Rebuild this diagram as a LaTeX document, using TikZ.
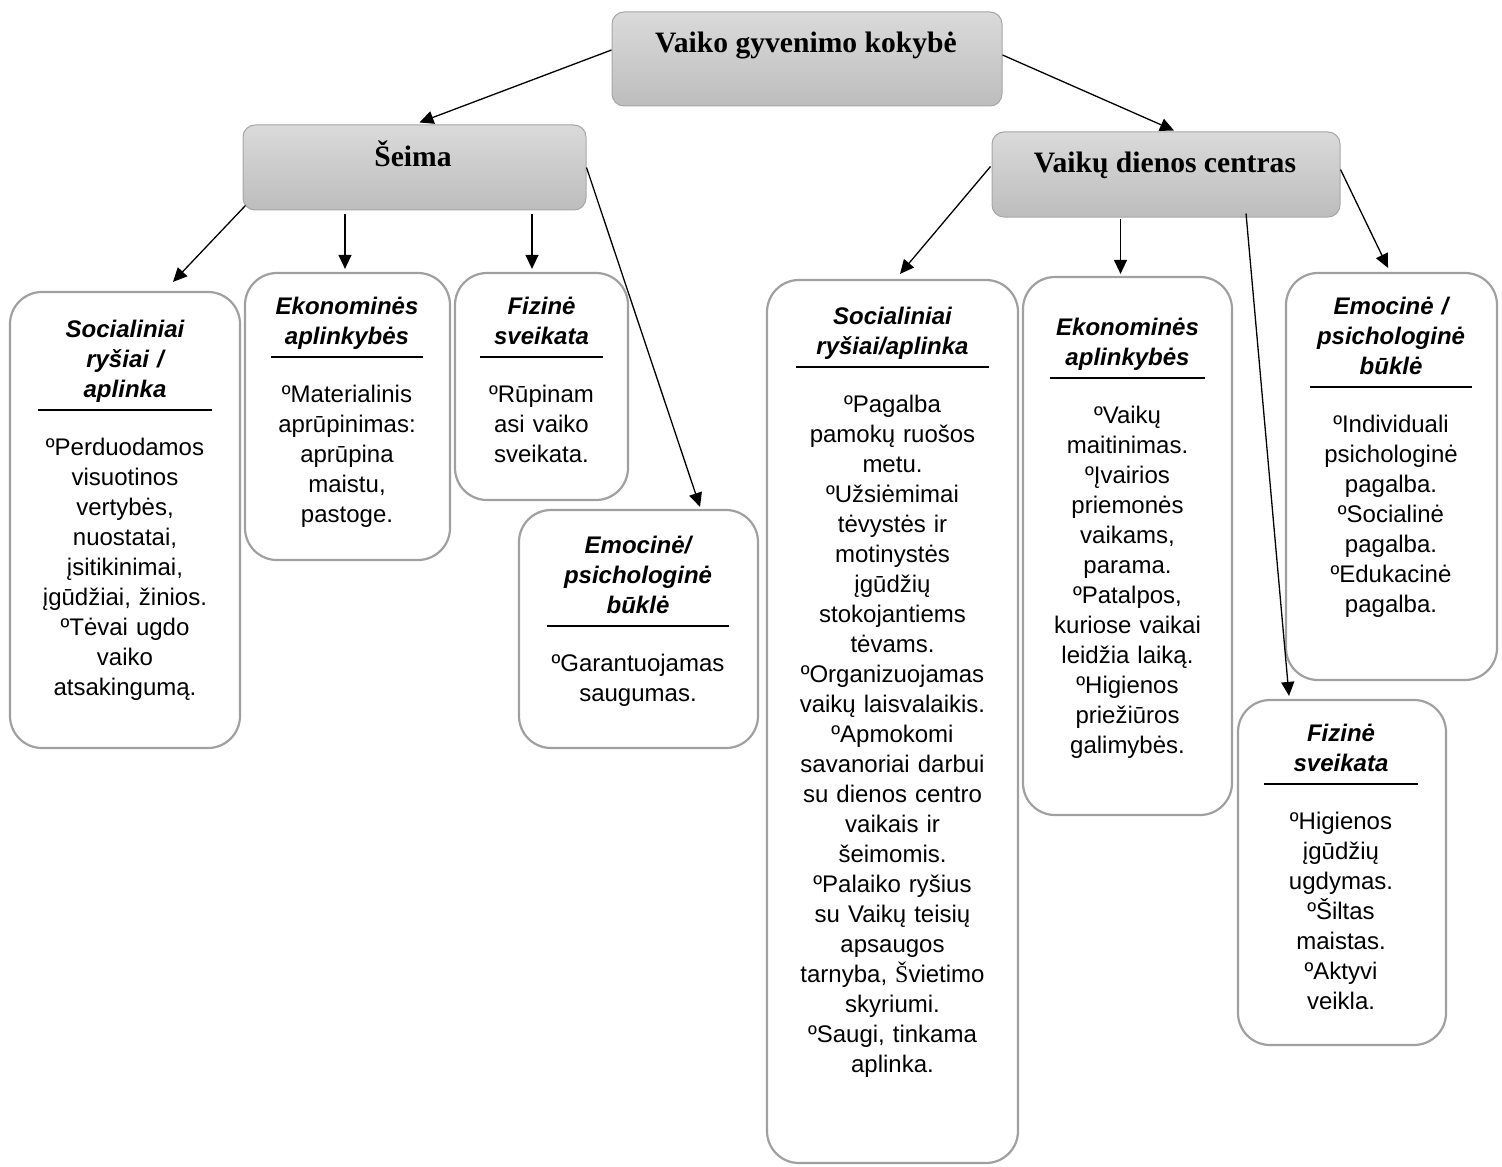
\documentclass[tikz,border=0pt]{standalone}
\usepackage{fontspec}
\setmainfont{Liberation Sans}
\newfontfamily\serifttl{Liberation Serif}
\usetikzlibrary{arrows.meta,calc}
\definecolor{topg}{HTML}{DADADA}
\definecolor{botg}{HTML}{BDBDBD}
\definecolor{gbord}{HTML}{A6A6A6}
\definecolor{lbord}{HTML}{A0A0A0}
\begin{document}
\begin{tikzpicture}[x=0.5pt,y=-0.5pt,
  catbox/.style={draw=gbord, line width=0.5pt, rounded corners=6pt, top color=topg, bottom color=botg, inner sep=0pt},
  leafbox/.style={draw=lbord, line width=1.1pt, rounded corners=16pt, fill=white, inner sep=0pt},
  ttl/.style={font=\serifttl\bfseries\fontsize{14.8}{17}\selectfont, anchor=base, inner sep=0pt},
  hdr/.style={font=\bfseries\itshape\fontsize{12}{15}\selectfont, align=center, anchor=base, inner sep=0pt, text width=#1},
  bdy/.style={font=\fontsize{12}{15}\selectfont, align=center, anchor=base, inner sep=0pt, text width=#1},
  hrule/.style={line width=1.3pt},
  conn/.style={line width=0.65pt, -{Triangle[length=7pt,width=6.5pt]}}
]
\useasboundingbox (0,0) rectangle (1502,1166);

% category boxes
\node[catbox, minimum width=195pt, minimum height=47pt] (top) at (807,59) {};
\node[ttl] (toptxt) at (806,53) {Vaiko gyvenimo kokybė};
\node[catbox, minimum width=171.5pt, minimum height=42.5pt] (seima) at (414.5,167.5) {};
\node[ttl] (seimatxt) at (413,166.5) {Šeima};
\node[catbox, minimum width=174pt, minimum height=42.5pt] (vdc) at (1166,174.5) {};
\node[ttl] (vdctxt) at (1165,173) {Vaikų dienos centras};

% Box 1
\node[leafbox, minimum width=115pt, minimum height=228pt] (b1) at (125,520) {};
\node[hdr=115pt] (b1h) at (125,337) {Socialiniai\\ ryšiai /\\ aplinka};
\draw[hrule] (38,410) -- (212,410);
\node[bdy=115pt] (b1t) at (125,455) {ºPerduodamos\\ visuotinos\\ vertybės,\\ nuostatai,\\ įsitikinimai,\\ įgūdžiai, žinios.\\ ºTėvai ugdo\\ vaiko\\ atsakingumą.};

% Box 2
\node[leafbox, minimum width=102.5pt, minimum height=143.5pt] (b2) at (347.5,416.5) {};
\node[hdr=102.5pt] (b2h) at (347,314) {Ekonominės\\ aplinkybės};
\draw[hrule] (271,357) -- (423,357);
\node[bdy=102.5pt] (b2t) at (347,402) {ºMaterialinis\\ aprūpinimas:\\ aprūpina\\ maistu,\\ pastoge.};

% Box 3
\node[leafbox, minimum width=86.5pt, minimum height=113.5pt] (b3) at (541.5,386.5) {};
\node[hdr=86.5pt] (b3h) at (541.5,314) {Fizinė\\ sveikata};
\draw[hrule] (480,357) -- (603,357);
\node[bdy=86.5pt] (b3t) at (541.5,402) {ºRūpinam\\ asi vaiko\\ sveikata.};

% Box 4
\node[leafbox, minimum width=119.5pt, minimum height=119pt] (b4) at (638.5,629) {};
\node[hdr=119.5pt] (b4h) at (638,553) {Emocinė/\\ psichologinė\\ būklė};
\draw[hrule] (547,626) -- (729,626);
\node[bdy=119.5pt] (b4t) at (638,671) {ºGarantuojamas\\ saugumas.};

% Box 5
\node[leafbox, minimum width=125.5pt, minimum height=441.5pt] (b5) at (892.5,721.5) {};
\node[hdr=125.5pt] (b5h) at (892.5,324) {Socialiniai\\ ryšiai/aplinka};
\draw[hrule] (796,367) -- (989,367);
\node[bdy=125.5pt] (b5t) at (892.5,412) {ºPagalba\\ pamokų ruošos\\ metu.\\ ºUžsiėmimai\\ tėvystės ir\\ motinystės\\ įgūdžių\\ stokojantiems\\ tėvams.\\ ºOrganizuojamas\\ vaikų laisvalaikis.\\ ºApmokomi\\ savanoriai darbui\\ su dienos centro\\ vaikais ir\\ šeimomis.\\ ºPalaiko ryšius\\ su Vaikų teisių\\ apsaugos\\ tarnyba, {\serifttl Š}vietimo\\ skyriumi.\\ ºSaugi, tinkama\\ aplinka.};

% Box 6
\node[leafbox, minimum width=104.5pt, minimum height=269pt] (b6) at (1127.5,546) {};
\node[hdr=104.5pt] (b6h) at (1127.5,335) {Ekonominės\\ aplinkybės};
\draw[hrule] (1050,378) -- (1205,378);
\node[bdy=104.5pt] (b6t) at (1127.5,423) {ºVaikų\\ maitinimas.\\ ºĮvairios\\ priemonės\\ vaikams,\\ parama.\\ ºPatalpos,\\ kuriose vaikai\\ leidžia laiką.\\ ºHigienos\\ priežiūros\\ galimybės.};

% Box 7
\node[leafbox, minimum width=105.5pt, minimum height=203.5pt] (b7) at (1391.5,476.5) {};
\node[hdr=105.5pt] (b7h) at (1391,314) {Emocinė /\\ psichologinė\\ būklė};
\draw[hrule] (1310,387) -- (1472,387);
\node[bdy=105.5pt] (b7t) at (1391,432) {ºIndividuali\\ psichologinė\\ pagalba.\\ ºSocialinė\\ pagalba.\\ ºEdukacinė\\ pagalba.};

% Box 8
\node[leafbox, minimum width=104pt, minimum height=172.5pt] (b8) at (1342,872.5) {};
\node[hdr=104pt] (b8h) at (1341,741) {Fizinė\\ sveikata};
\draw[hrule] (1264,784) -- (1418,784);
\node[bdy=104pt] (b8t) at (1341,829) {ºHigienos\\ įgūdžių\\ ugdymas.\\ ºŠiltas\\ maistas.\\ ºAktyvi\\ veikla.};

% connectors
\draw[conn] ($(top.west)+(0,-9)$) -- ($(seima.north)+(5,-2)$);
\draw[conn] ($(top.east)+(0,-4)$) -- ($(vdc.north)+(8,-1)$);
\draw[conn] ($(seima.south west)+(3,-5)$) -- ($(b1.north)+(48,-9)$);
\draw[conn] ($(seima.south -| b2.north)+(-2.5,4)$) -- ($(b2.north)+(-2.5,-3)$);
\draw[conn] ($(seima.south -| b3.north)+(-9.5,4)$) -- ($(b3.north)+(-9.5,-3)$);
\draw[conn] (seima.east) -- ($(b4.north)+(61.5,-2)$);
\draw[conn] ($(vdc.west)+(-1,-8)$) -- ($(b5.north)+(7.5,-5)$);
\draw[conn] ($(vdc.south -| b6.north)+(-7,1)$) -- ($(b6.north)+(-7,-2)$);
\draw[conn] ($(vdc.south)+(80,-4)$) -- ($(b8.north)+(-53,-3)$);
\draw[conn] ($(vdc.east)+(0,-5)$) -- ($(b7.north)+(-3.5,-4)$);
\end{tikzpicture}
\end{document}
